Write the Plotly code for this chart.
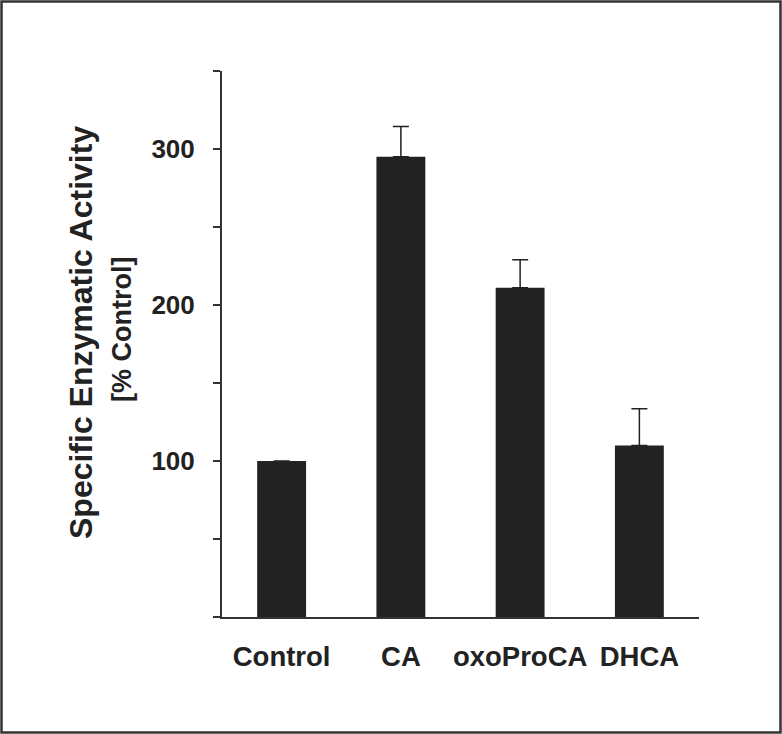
import plotly.graph_objects as go

# values
groups = ["Control", "CA", "oxoProCA", "DHCA"]
activity = [100, 295, 211, 110]
err_up = [0, 19.5, 18, 23.5]

tick_vals = [0, 50, 100, 150, 200, 250, 300, 350]
tick_text = ["", "", "100", "", "200", "", "300", ""]

W, H = 782, 734
L, R, T, B = 222, 83, 71, 117
pw, ph = W - L - R, H - T - B

def px(x):
    return (x - L) / pw

def py(y):
    return (H - B - y) / ph

ink = "#222222"
fnt = dict(family="Liberation Sans, Arial, sans-serif", color=ink, weight="bold")

fig = go.Figure()
fig.add_trace(go.Bar(
    x=groups, y=activity, width=0.41,
    marker=dict(color=ink, line=dict(width=0)),
    error_y=dict(type="data", array=err_up, arrayminus=[0] * len(err_up),
                 symmetric=False, color=ink, thickness=1.5, width=8),
))

fig.update_layout(
    width=W, height=H,
    margin=dict(l=L, r=R, t=T, b=B),
    plot_bgcolor="white", paper_bgcolor="white",
    showlegend=False,
    xaxis=dict(range=[-0.5, 3.5], showline=True, linecolor="#333333", linewidth=2,
               ticks="", showgrid=False, zeroline=False,
               tickfont=dict(size=27.5, **fnt), ticklabelstandoff=14),
    yaxis=dict(range=[0, 350], showline=True, linecolor="#333333", linewidth=2,
               ticks="outside", ticklen=7, tickwidth=2, tickcolor="#333333",
               tickvals=tick_vals, ticktext=tick_text, showgrid=False, zeroline=False,
               tickfont=dict(size=26, **fnt), ticklabelstandoff=13),
    annotations=[
        dict(text="Specific Enzymatic Activity", xref="paper", yref="paper",
             x=px(81), y=py(333), xanchor="center", yanchor="middle",
             textangle=-90, showarrow=False, font=dict(size=32, **fnt)),
        dict(text="[% Control]", xref="paper", yref="paper",
             x=px(122), y=py(330), xanchor="center", yanchor="middle",
             textangle=-90, showarrow=False, font=dict(size=27, **fnt)),
    ],
    shapes=[dict(type="rect", xref="paper", yref="paper",
                 x0=px(1.5), x1=px(780.5), y0=py(732.5), y1=py(1.5),
                 line=dict(color="#333333", width=2.5))],
)

fig.write_html("out.html", config={"displayModeBar": False},
               post_script="document.body.style.margin='0';")
